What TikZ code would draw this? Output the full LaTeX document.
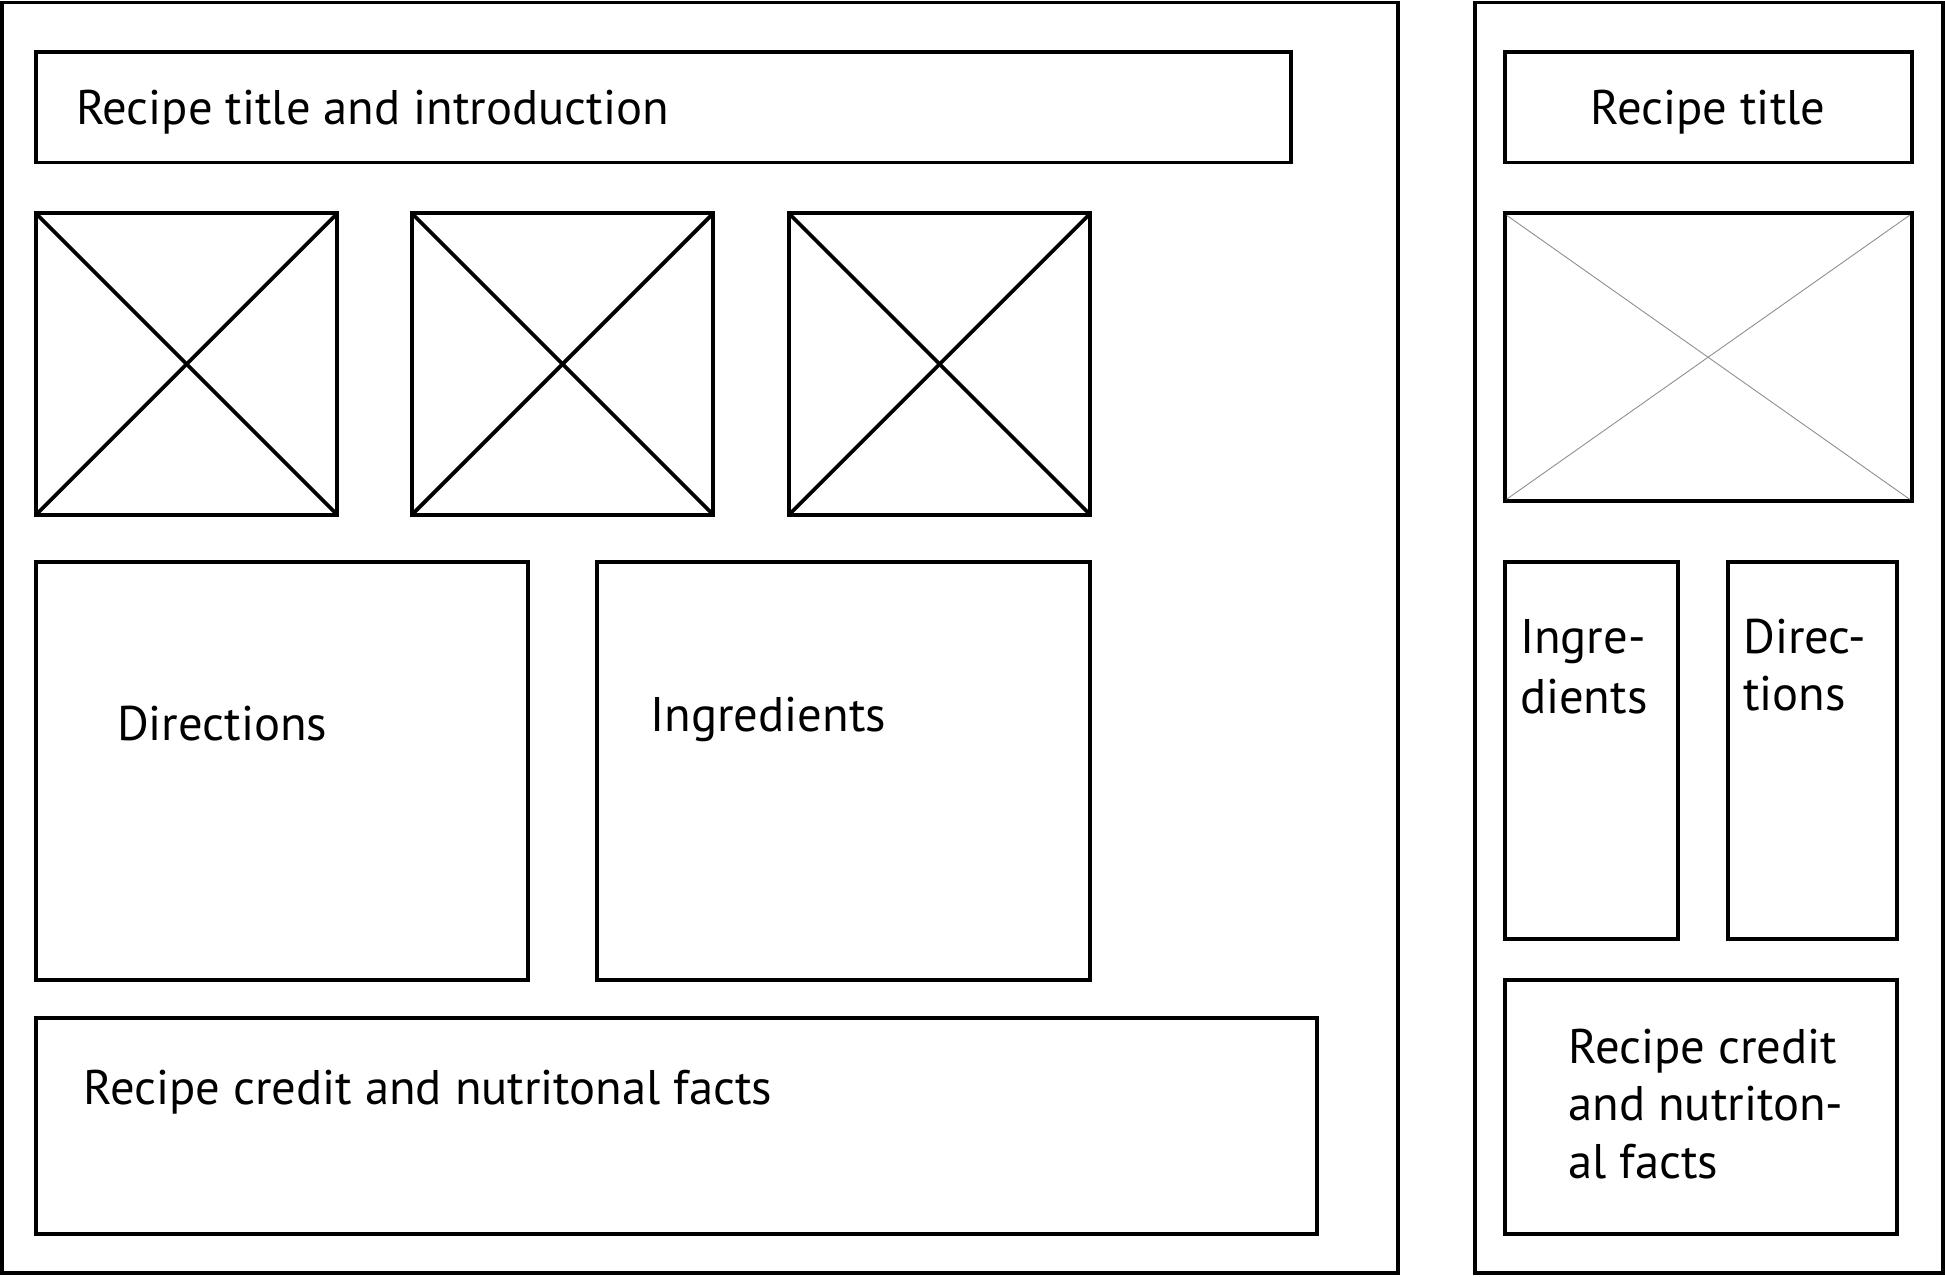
\documentclass[tikz,border=0pt]{standalone}
\usepackage{fontspec}
\setmainfont{PT Sans}
\begin{document}
\begin{tikzpicture}[x=0.5pt,y=-0.5pt,
  frame/.style={draw=black, line width=1.6pt},
  cross/.style={draw=black, line width=1.5pt},
  thincross/.style={draw=black!45, line width=0.35pt},
  lbl/.style={font=\fontsize{19.6}{24}\selectfont, inner sep=0pt, anchor=base west, align=left},
  lblc/.style={font=\fontsize{19.6}{24}\selectfont, inner sep=0pt, anchor=base}]
\useasboundingbox (0,0) rectangle (1568,1029);
% outer panels
\draw[frame] (2,2) rectangle (1127,1026.5);
\draw[frame] (1189,2) rectangle (1566,1026.5);
% ---- left layout ----
\draw[frame] (29,42) rectangle (1041,131);
\node[lbl] (ltitle) at (61,100) {Recipe title and introduction};
\foreach \x/\n in {29/a,332/b,636/c}{
  \draw[frame] (\x,172) rectangle ++(243,243);
  \coordinate (img\n nw) at (\x,172);
  \coordinate (img\n se) at (\x+243,415);
  \coordinate (img\n ne) at (\x+243,172);
  \coordinate (img\n sw) at (\x,415);
  \draw[cross] (img\n nw) -- (img\n se);
  \draw[cross] (img\n ne) -- (img\n sw);
}
\draw[frame] (29,453) rectangle (426,790);
\node[lbl] (ldir) at (94,597) {Directions};
\draw[frame] (481,453) rectangle (879,790);
\node[lbl] (ling) at (524,590) {Ingredients};
\draw[frame] (29,821) rectangle (1062,995);
\node[lbl] (lcred) at (67,890) {Recipe credit and nutritonal facts};
% ---- right layout ----
\draw[frame] (1213,42) rectangle (1541,131);
\node[lblc] (rtitle) at (1377,100) {Recipe title};
\draw[frame] (1213,172) rectangle (1541,404);
\coordinate (rimgnw) at (1214.5,173.5);
\coordinate (rimgse) at (1539.5,402.5);
\coordinate (rimgne) at (1539.5,173.5);
\coordinate (rimgsw) at (1214.5,402.5);
\draw[thincross] (rimgnw) -- (rimgse);
\draw[thincross] (rimgne) -- (rimgsw);
\draw[frame] (1213,453) rectangle (1353,757);
\node[lbl] (ring1) at (1225,527) {Ingre-};
\node[lbl] (ring2) at (1225,575) {dients};
\draw[frame] (1393,453) rectangle (1529,757);
\node[lbl] (rdir1) at (1405,527) {Direc-};
\node[lbl] (rdir2) at (1405,573) {tions};
\draw[frame] (1213,790) rectangle (1529,995);
\node[lbl] (rcred1) at (1264,857) {Recipe credit};
\node[lbl] (rcred2) at (1264,903) {and nutriton-};
\node[lbl] (rcred3) at (1264,950) {al facts};
\end{tikzpicture}
\end{document}
